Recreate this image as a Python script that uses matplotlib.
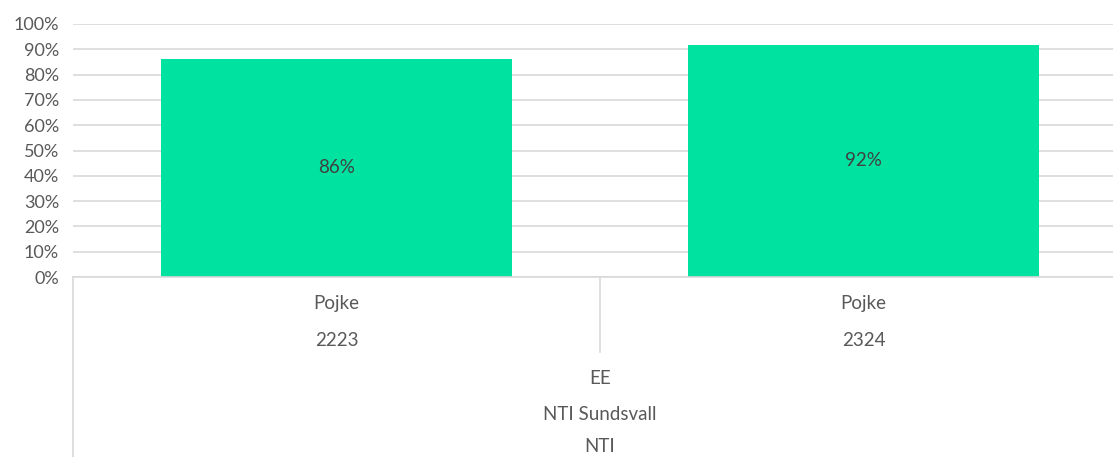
import matplotlib
matplotlib.use("Agg")
import matplotlib.pyplot as plt
from matplotlib.ticker import PercentFormatter
import matplotlib.transforms as mtransforms

# Data
years = ["2223", "2324"]
genders = ["Pojke", "Pojke"]
program = "EE"
school = "NTI Sundsvall"
org = "NTI"
values = [0.862, 0.917]
value_labels = ["86%", "92%"]

plt.rcParams['font.family'] = ['Lato', 'DejaVu Sans']

W, H = 1113, 457
fig = plt.figure(figsize=(W / 100, H / 100), dpi=100)
ax_left, ax_right, ax_top, ax_bottom = 73, 1127, 24, 277
ax = fig.add_axes([ax_left / W, 1 - ax_bottom / H, (ax_right - ax_left) / W, (ax_bottom - ax_top) / H])

bar_color = "#00E2A0"
text_color = "#595959"
grid_color = "#D9D9D9"

x = list(range(len(values)))
ax.bar(x, values, width=0.666, color=bar_color, zorder=2)
for xi, v, lab in zip(x, values, value_labels):
    ax.text(xi, v / 2, lab, ha="center", va="center", fontsize=13.5, color="#404040", zorder=3)

ax.set_xlim(-0.5, len(values) - 0.5)
ax.set_ylim(0, 1.0)
ax.set_yticks([i / 10 for i in range(11)])
ax.yaxis.set_major_formatter(PercentFormatter(1.0, decimals=0))
ax.tick_params(axis="y", length=0, labelsize=13, labelcolor=text_color, pad=10)
ax.set_xticks([])
ax.grid(axis="y", color=grid_color, linewidth=1.2, zorder=0)
for s in ["top", "right", "left"]:
    ax.spines[s].set_visible(False)
ax.spines["bottom"].set_color(grid_color)
ax.spines["bottom"].set_linewidth(1.2)

trans = mtransforms.blended_transform_factory(ax.transData, ax.transAxes)
h = ax_bottom - ax_top
def ya(ypix):
    return (ax_bottom - ypix) / h

# Category boundary lines
ax.plot([-0.5, -0.5], [0, ya(460)], transform=trans, color=grid_color, lw=1.2, clip_on=False)
ax.plot([0.5, 0.5], [0, ya(352)], transform=trans, color=grid_color, lw=1.2, clip_on=False)

fs = 13.5
for xi, g, yr in zip(x, genders, years):
    ax.text(xi, ya(304), g, transform=trans, ha="center", va="center", fontsize=fs, color=text_color)
    ax.text(xi, ya(340), yr, transform=trans, ha="center", va="center", fontsize=fs, color=text_color)

xc = (len(values) - 1) / 2
ax.text(xc, ya(378), program, transform=trans, ha="center", va="center", fontsize=fs, color=text_color)
ax.text(xc, ya(415), school, transform=trans, ha="center", va="center", fontsize=fs, color=text_color)
ax.text(xc, ya(446), org, transform=trans, ha="center", va="center", fontsize=fs, color=text_color)

fig.savefig("out.png", dpi=100)
